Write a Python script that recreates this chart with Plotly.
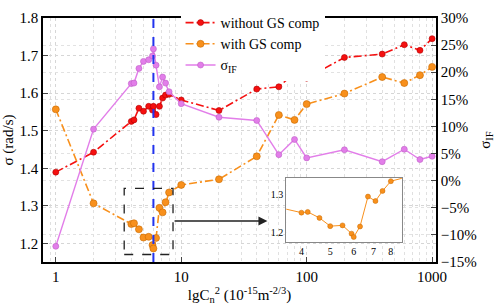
import plotly.graph_objects as go

cn2 = [1, 2, 4, 4.2, 4.6, 5, 5.5, 5.9, 6, 6.3, 6.7, 7.1, 7.5, 8, 10, 20, 40, 60, 80, 100, 200, 400, 600, 800, 1000]
sigma_without = [1.390, 1.443, 1.525, 1.529, 1.560, 1.552, 1.565, 1.555, 1.565, 1.543, 1.565, 1.587, 1.595, 1.597,
                 1.582, 1.554, 1.611, 1.617, 1.654, 1.640, 1.695, 1.704, 1.729, 1.714, 1.745]
sigma_with = [1.557, 1.307, 1.252, 1.254, 1.238, 1.216, 1.218, 1.196, 1.187, 1.215, 1.295, 1.283, 1.310, 1.336,
              1.356, 1.371, 1.432, 1.542, 1.529, 1.571, 1.599, 1.643, 1.627, 1.648, 1.670]
sigma_if = [-12.1, 9.5, 17.9, 18.0, 20.7, 22.0, 22.3, 23.0, 24.3, 21.3, 17.3, 19.1, 18.0, 16.4,
            14.2, 11.7, 11.1, 4.8, 7.6, 4.2, 5.7, 3.5, 5.8, 3.9, 4.5]

x_ticks = [1, 10, 100, 1000]
x_ticktext = ["1", "10", "100", "1000"]
inset_ticks = [4, 5, 6, 7, 8]
inset_xrange = [3.556, 8.71]
inset_yrange = [1.174, 1.345]

RED = "#f51010"
ORANGE = "#f8901c"
VIOLET = "#e27ee9"
FONT = "Liberation Serif, Times New Roman, DejaVu Serif, serif"

fig = go.Figure()
fig.add_trace(go.Scatter(x=cn2, y=sigma_without, name="without GS comp", mode="lines+markers",
                         line=dict(color=RED, width=1.6, dash="8px,3px,2px,3px"),
                         marker=dict(color=RED, size=6, line=dict(color="#b00000", width=0.6))))
fig.add_trace(go.Scatter(x=cn2, y=sigma_with, name="with GS comp", mode="lines+markers",
                         line=dict(color=ORANGE, width=1.6, dash="8px,3px,2px,3px"),
                         marker=dict(color=ORANGE, size=7, line=dict(color="#c86a00", width=0.6))))
fig.add_trace(go.Scatter(x=cn2, y=sigma_if, name="σ<sub>IF</sub>", mode="lines+markers", yaxis="y2",
                         line=dict(color=VIOLET, width=1.4),
                         marker=dict(color=VIOLET, size=6, line=dict(color="#c060c8", width=0.6))))
# inset
fig.add_trace(go.Scatter(x=cn2, y=sigma_with, mode="lines+markers", xaxis="x3", yaxis="y3", showlegend=False,
                         line=dict(color=ORANGE, width=1),
                         marker=dict(color=ORANGE, size=5, line=dict(color="#c86a00", width=0.5))))

grid = dict(showgrid=True, gridcolor="#d6d6d6", griddash="dot", gridwidth=1)
tf = dict(family=FONT, size=15, color="black")
fig.update_layout(
    width=498, height=305,
    margin=dict(l=42, r=48, t=7, b=43),
    paper_bgcolor="white", plot_bgcolor="white",
    font=dict(family=FONT, size=15, color="black"),
    showlegend=True,
    legend=dict(x=0.35, y=1.045, xanchor="left", yanchor="top", bgcolor="rgba(255,255,255,1)",
                font=dict(family=FONT, size=14), tracegroupgap=0, itemwidth=30),
    xaxis=dict(type="log", range=[-0.102, 3.031], tickvals=x_ticks, ticktext=x_ticktext, tickfont=tf,
               ticks="inside", ticklen=5, linecolor="black", linewidth=1.5, mirror=True,
               minor=dict(dtick="D1", showgrid=True, gridcolor="#e0e0e0", griddash="dot", ticks=""),
               title=dict(text="lgC<sub>n</sub><sup>2</sup> (10<sup>-15</sup>m<sup>-2/3</sup>)",
                          font=tf, standoff=0),
               zeroline=False, **grid),
    yaxis=dict(range=[1.151, 1.8], dtick=0.1, tickformat=".1f", ticks="inside", ticklen=5, tickfont=tf,
               linecolor="black", linewidth=1.5, mirror=True,
               title=dict(text="σ (rad/s)", font=tf, standoff=2),
               zeroline=False, **grid),
    yaxis2=dict(range=[-15, 30], dtick=5, ticksuffix="%", overlaying="y", side="right", tickfont=tf,
                ticks="inside", ticklen=5, linecolor="black", linewidth=1.5,
                title=dict(text="σ<sub>IF</sub>", font=tf, standoff=4),
                zeroline=False, showgrid=True, gridcolor="#e2e2e2", griddash="dot"),
    xaxis3=dict(type="log", domain=[0.619, 0.913], anchor="y3",
                range=[0.551, 0.940],
                tickvals=inset_ticks, ticks="", tickfont=dict(size=10, family=FONT),
                showgrid=True, gridcolor="#eeeeee", linecolor="#888888", linewidth=1, mirror=True,
                zeroline=False),
    yaxis3=dict(domain=[0.0825, 0.345], anchor="x3", range=inset_yrange, tickvals=[1.2, 1.3],
                tickformat=".1f", ticks="", tickfont=dict(size=10, family=FONT),
                showgrid=True, gridcolor="#eeeeee", linecolor="#888888", linewidth=1, mirror=True,
                minor=dict(dtick=0.025, showgrid=True, gridcolor="#f4f4f4"), zeroline=False),
)

# inset white background
fig.add_shape(type="rect", xref="x3", yref="y3", x0=inset_xrange[0], x1=inset_xrange[1],
              y0=inset_yrange[0], y1=inset_yrange[1],
              fillcolor="white", line=dict(width=0), layer="between")
# blue dashed vertical line
fig.add_shape(type="line", xref="x", yref="paper", x0=6, x1=6, y0=0, y1=1,
              line=dict(color="#2233ee", width=2, dash="dash"))
# dashed zoom box
fig.add_shape(type="rect", xref="x", yref="y", x0=3.51, x1=8.6, y0=1.171, y1=1.347,
              line=dict(color="#222222", width=1.3, dash="dash"))
# arrow
fig.add_annotation(x=1.687, y=1.26, xref="x", yref="y", ax=0.935, ay=1.26, axref="x", ayref="y",
                   showarrow=True, arrowhead=2, arrowsize=1.2, arrowwidth=1.5, arrowcolor="#222222", text="")

fig.write_html("out.html", config={"displayModeBar": False},
               post_script="document.body.style.margin='0';document.body.style.overflow='hidden';")
